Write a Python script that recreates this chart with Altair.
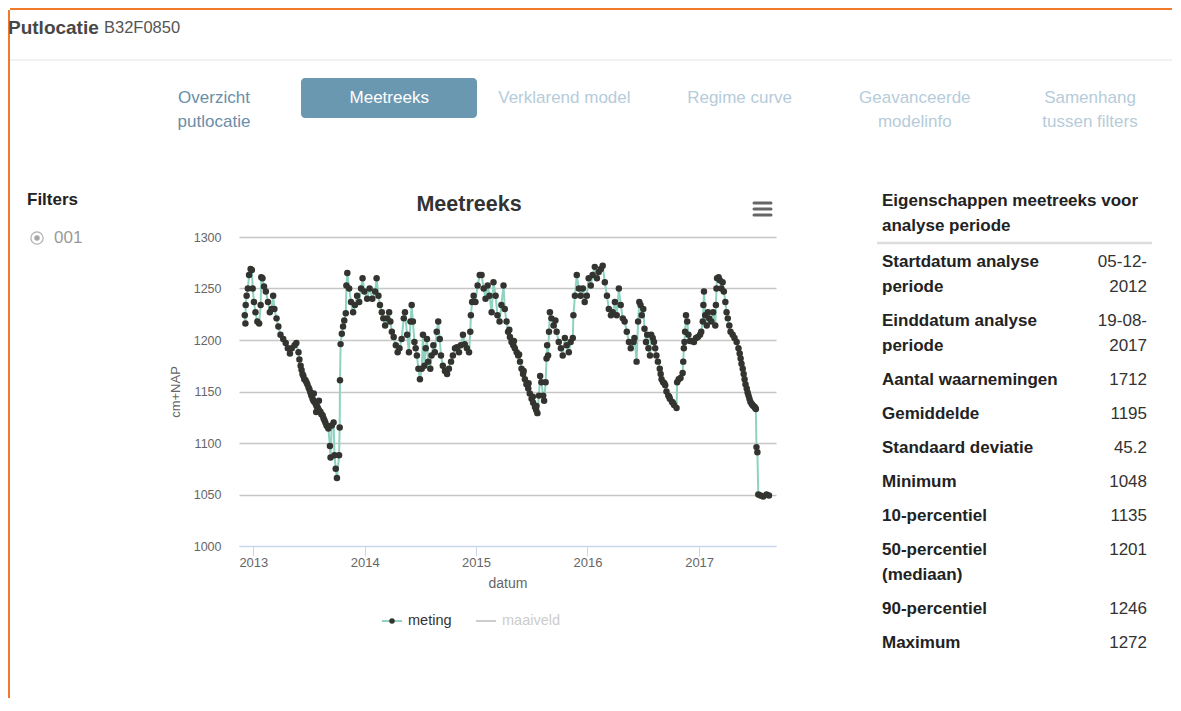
import altair as alt
import pandas as pd

FONT = "Liberation Sans"

# ---------------- meetreeks (datum als decimaal jaar, stand in cm+NAP) ----------------
jaar_a = [2012.926, 2012.929, 2012.933, 2012.940, 2012.952, 2012.964, 2012.976, 2012.988, 2012.997, 2013.006,
          2013.021, 2013.036, 2013.054, 2013.066, 2013.072, 2013.084, 2013.096, 2013.114, 2013.132, 2013.149,
          2013.167, 2013.179, 2013.191, 2013.209, 2013.227, 2013.245, 2013.269, 2013.293, 2013.311, 2013.329,
          2013.347, 2013.371, 2013.389, 2013.407, 2013.425, 2013.442, 2013.460, 2013.478, 2013.496, 2013.514,
          2013.532, 2013.550, 2013.568, 2013.586, 2013.604, 2013.622, 2013.640, 2013.658, 2013.676, 2013.688,
          2013.694, 2013.706, 2013.723, 2013.729, 2013.741, 2013.753, 2013.771, 2013.777, 2013.780, 2013.786,
          2013.795, 2013.807, 2013.819, 2013.831, 2013.837, 2013.846, 2013.861, 2013.879, 2013.897, 2013.915,
          2013.933, 2013.951, 2013.969, 2013.981, 2013.998, 2014.022, 2014.046, 2014.070, 2014.094]
stand_a = [1224, 1216, 1234, 1243, 1250, 1263, 1269, 1268, 1250, 1237,
           1227, 1218, 1216, 1234, 1261, 1260, 1252, 1247, 1237, 1227,
           1230, 1243, 1230, 1221, 1213, 1205, 1201, 1197, 1192, 1187,
           1192, 1195, 1197, 1188, 1175, 1167, 1162, 1159, 1154, 1149,
           1143, 1140, 1136, 1133, 1130, 1127, 1122, 1117, 1114, 1097,
           1086, 1117, 1120, 1088, 1075, 1066, 1088, 1115, 1161, 1196,
           1206, 1213, 1219, 1226, 1253, 1265, 1250, 1237, 1227, 1234,
           1243, 1237, 1250, 1260, 1247, 1240, 1250, 1240, 1247]

jaar_b = [2014.109, 2014.124, 2014.139, 2014.154, 2014.169, 2014.184, 2014.202, 2014.220, 2014.232, 2014.244,
          2014.262, 2014.280, 2014.297, 2014.315, 2014.333, 2014.351, 2014.363, 2014.381, 2014.399, 2014.411,
          2014.423, 2014.435, 2014.447, 2014.459, 2014.471, 2014.483, 2014.498, 2014.513, 2014.525, 2014.537,
          2014.549, 2014.561, 2014.572, 2014.590, 2014.602, 2014.617, 2014.632, 2014.647, 2014.662, 2014.674,
          2014.686, 2014.704, 2014.722, 2014.740, 2014.758, 2014.776, 2014.794, 2014.812, 2014.830, 2014.848,
          2014.865, 2014.883, 2014.901, 2014.919, 2014.937, 2014.949, 2014.955, 2014.967, 2014.979, 2014.997,
          2015.015, 2015.033, 2015.051, 2015.069, 2015.087, 2015.105, 2015.123, 2015.141, 2015.158, 2015.176,
          2015.194, 2015.212, 2015.230, 2015.248]
stand_b = [1260, 1243, 1234, 1227, 1221, 1214, 1221, 1227, 1218, 1208,
           1203, 1195, 1188, 1192, 1201, 1221, 1227, 1205, 1188, 1218,
           1234, 1218, 1198, 1192, 1185, 1172, 1162, 1172, 1205, 1175,
           1192, 1201, 1179, 1172, 1185, 1195, 1188, 1208, 1218, 1201,
           1185, 1175, 1170, 1167, 1172, 1179, 1185, 1192, 1193, 1188,
           1195, 1205, 1196, 1192, 1188, 1208, 1224, 1237, 1243, 1237,
           1253, 1263, 1263, 1250, 1240, 1253, 1243, 1227, 1256, 1243,
           1224, 1218, 1234, 1253]

jaar_c = [2015.260, 2015.275, 2015.290, 2015.305, 2015.320, 2015.335, 2015.350, 2015.365, 2015.380, 2015.395,
          2015.410, 2015.424, 2015.439, 2015.454, 2015.469, 2015.484, 2015.499, 2015.514, 2015.529, 2015.541,
          2015.553, 2015.565, 2015.577, 2015.589, 2015.604, 2015.613, 2015.625, 2015.634, 2015.640, 2015.649,
          2015.655, 2015.664, 2015.679, 2015.697, 2015.715, 2015.726, 2015.744, 2015.762, 2015.780, 2015.798,
          2015.816, 2015.834, 2015.852, 2015.870, 2015.876, 2015.888, 2015.906, 2015.924, 2015.942, 2015.960,
          2015.978, 2015.996, 2016.013, 2016.031, 2016.049, 2016.067, 2016.085, 2016.103, 2016.121, 2016.139,
          2016.157, 2016.175, 2016.193, 2016.211, 2016.229, 2016.247, 2016.265, 2016.283, 2016.300, 2016.318,
          2016.336, 2016.354, 2016.372, 2016.390, 2016.414]
stand_c = [1230, 1218, 1208, 1203, 1198, 1195, 1192, 1188, 1185, 1179,
           1172, 1167, 1162, 1157, 1153, 1148, 1143, 1139, 1135, 1132,
           1129, 1146, 1165, 1159, 1146, 1141, 1159, 1182, 1195, 1185,
           1208, 1227, 1221, 1214, 1219, 1208, 1198, 1192, 1185, 1202,
           1195, 1188, 1198, 1202, 1224, 1243, 1263, 1250, 1243, 1250,
           1237, 1243, 1260, 1253, 1263, 1271, 1260, 1266, 1269, 1272,
           1256, 1243, 1230, 1224, 1227, 1237, 1224, 1250, 1234, 1221,
           1218, 1208, 1198, 1192, 1198]

jaar_d = [2016.423, 2016.441, 2016.456, 2016.465, 2016.477, 2016.489, 2016.501, 2016.513, 2016.525, 2016.537,
          2016.549, 2016.561, 2016.573, 2016.585, 2016.596, 2016.608, 2016.620, 2016.632, 2016.650, 2016.665,
          2016.680, 2016.698, 2016.710, 2016.725, 2016.740, 2016.758, 2016.776, 2016.800, 2016.806, 2016.818,
          2016.836, 2016.853, 2016.859, 2016.865, 2016.871, 2016.877, 2016.883, 2016.895, 2016.907, 2016.919,
          2016.937, 2016.955, 2016.973, 2016.991, 2017.009, 2017.021, 2017.033, 2017.039, 2017.045, 2017.057,
          2017.069, 2017.081, 2017.093, 2017.111, 2017.128, 2017.146, 2017.152, 2017.158, 2017.164, 2017.176,
          2017.188, 2017.200, 2017.212, 2017.224, 2017.236, 2017.248, 2017.260, 2017.272, 2017.284, 2017.302,
          2017.320, 2017.338, 2017.356, 2017.374, 2017.392, 2017.410, 2017.428, 2017.445, 2017.463, 2017.481,
          2017.499, 2017.511, 2017.517, 2017.526, 2017.532, 2017.553, 2017.576, 2017.606, 2017.630]
stand_d = [1202, 1179, 1218, 1237, 1234, 1224, 1230, 1211, 1198, 1205,
           1192, 1185, 1205, 1202, 1198, 1192, 1185, 1179, 1172, 1162,
           1159, 1156, 1150, 1146, 1143, 1140, 1137, 1134, 1159, 1162,
           1163, 1168, 1179, 1192, 1198, 1208, 1224, 1218, 1205, 1199,
           1199, 1198, 1202, 1203, 1205, 1208, 1218, 1234, 1247, 1224,
           1214, 1227, 1221, 1218, 1227, 1214, 1234, 1250, 1260, 1261,
           1258, 1250, 1256, 1247, 1237, 1227, 1221, 1214, 1208, 1205,
           1202, 1198, 1192, 1182, 1172, 1162, 1153, 1146, 1140, 1137,
           1135, 1133, 1096, 1091, 1050, 1049, 1048, 1050, 1049]

# extra readings along the dense, steep stretches of the band
jaar_e = [2013.416, 2013.433, 2013.451, 2013.469, 2013.487, 2013.505, 2013.523, 2013.541, 2013.545, 2013.559,
          2013.565, 2013.577, 2013.590, 2013.595, 2013.613, 2013.631, 2013.649, 2013.667,
          2015.300, 2015.342, 2015.388, 2015.430, 2015.472, 2015.510, 2015.545,
          2016.657, 2016.690, 2016.733, 2016.766,
          2017.365, 2017.383, 2017.401, 2017.419, 2017.436, 2017.454, 2017.472, 2017.490, 2017.505]
stand_e = [1181, 1171, 1165, 1161, 1157, 1152, 1146, 1141, 1148, 1138,
           1130, 1135, 1141, 1131, 1128, 1124, 1120, 1116,
           1210, 1199, 1186, 1170, 1158, 1145, 1136,
           1167, 1158, 1145, 1139,
           1187, 1177, 1167, 1157, 1149, 1143, 1138, 1136, 1134]

jaren_as = [2013, 2014, 2015, 2016, 2017]
y_ticks = [1000, 1050, 1100, 1150, 1200, 1250, 1300]

tabs = ["Overzicht\nputlocatie", "Meetreeks", "Verklarend model", "Regime curve",
        "Geavanceerde\nmodelinfo", "Samenhang\ntussen filters"]
tab_actief = "Meetreeks"

tabel_titel = ["Eigenschappen meetreeks voor", "analyse periode"]
eigenschap_labels = ["Startdatum analyse\nperiode", "Einddatum analyse\nperiode", "Aantal waarnemingen",
                     "Gemiddelde", "Standaard deviatie", "Minimum", "10-percentiel",
                     "50-percentiel\n(mediaan)", "90-percentiel", "Maximum"]
eigenschap_waarden = ["05-12-\n2012", "19-08-\n2017", "1712", "1195", "45.2", "1048", "1135",
                      "1201", "1246", "1272"]

# ---------------- data tabel ----------------
jaren = jaar_a + jaar_b + jaar_c + jaar_d + jaar_e
standen = stand_a + stand_b + stand_c + stand_d + stand_e
assert len(jaren) == len(standen)


def naar_datum(j):
    jaar = int(j)
    begin = pd.Timestamp(year=jaar, month=1, day=1)
    eind = pd.Timestamp(year=jaar + 1, month=1, day=1)
    return (begin + (eind - begin) * (j - jaar)).strftime("%Y-%m-%d")


df = pd.DataFrame({"jaar": jaren, "stand": standen}).sort_values("jaar")
df["datum"] = [naar_datum(j) for j in df["jaar"]]
df = df[["datum", "stand"]]

# plot area origin in page pixels
OX, OY = 239, 237
W, H = 537, 309
TEAL = "#8dd3c0"
DOT = "#333330"

one = pd.DataFrame({"k": [0]})


def tekst(s, px, py, size=17, weight="normal", color="#333333", align="left", baseline="middle"):
    return alt.Chart(one).mark_text(text=s, align=align, baseline=baseline, fontSize=size,
                                    fontWeight=weight, color=color, font=FONT).encode(
        x=alt.value(px - OX), y=alt.value(py - OY))


def lijn(x1, y1, x2, y2, color, width=1, cap="butt"):
    return alt.Chart(one).mark_rule(color=color, strokeWidth=width, strokeCap=cap).encode(
        x=alt.value(x1 - OX), x2=alt.value(x2 - OX), y=alt.value(y1 - OY), y2=alt.value(y2 - OY))


def vlak(x1, y1, x2, y2, fill, radius=0):
    return alt.Chart(one).mark_rect(fill=fill, cornerRadius=radius).encode(
        x=alt.value(x1 - OX), x2=alt.value(x2 - OX), y=alt.value(y1 - OY), y2=alt.value(y2 - OY))


deco = []
# orange frame (also fixes the page bounds)
deco.append(lijn(9, 10, 9, 698, "#f07a2c", 2))
deco.append(lijn(10, 9, 1172, 9, "#f07a2c", 2))
# header
deco.append(tekst("Putlocatie", 8, 28, 19, "bold", "#474747"))
deco.append(tekst("B32F0850", 104, 28, 16.5, "normal", "#555555"))
deco.append(lijn(10, 60, 1172, 60, "#e4e4e4", 1))

# tabs
for i, t in enumerate(tabs):
    cx = 214 + 175.2 * i
    if t == tab_actief:
        deco.append(vlak(301, 78, 477, 118, "#6b98b1", 4))
        kleur = "#ffffff"
    elif i == 0:
        kleur = "#6a8ea8"
    else:
        kleur = "#b6ccda"
    for k, regel in enumerate(t.split("\n")):
        deco.append(tekst(regel, cx, 98 + 24 * k, 17, "normal", kleur, "center"))

# filters panel
deco.append(tekst("Filters", 27, 200, 17, "bold", "#222222"))
deco.append(alt.Chart(one).mark_point(shape="circle", filled=False, size=150, color="#b0b0b0",
                                      strokeWidth=1.2, opacity=1).encode(
    x=alt.value(37 - OX), y=alt.value(238 - OY)))
deco.append(alt.Chart(one).mark_circle(size=30, color="#a8a8a8", opacity=1).encode(
    x=alt.value(37 - OX), y=alt.value(238 - OY)))
deco.append(tekst("001", 54, 238, 17, "normal", "#9a9a9a"))

# chart title + menu icon
deco.append(tekst("Meetreeks", 469, 205, 21.5, "bold", "#333333", "center"))
for yy in (203, 209, 215):
    deco.append(lijn(754, yy, 771, yy, "#666666", 3, "round"))

# legend
deco.append(lijn(382, 621, 402, 621, TEAL, 2))
deco.append(alt.Chart(one).mark_circle(size=30, color=DOT, opacity=1).encode(
    x=alt.value(392 - OX), y=alt.value(621 - OY)))
deco.append(tekst("meting", 408, 621, 14.5, "normal", "#333333"))
deco.append(lijn(476, 621, 496, 621, "#cccccc", 2))
deco.append(tekst("maaiveld", 502, 621, 14.5, "normal", "#cccccc"))

# properties table
for k, regel in enumerate(tabel_titel):
    deco.append(tekst(regel, 882, 201 + 25 * k, 17, "bold", "#222222"))
deco.append(lijn(877, 243, 1152, 243, "#dcdcdc", 2.5))
rij_y = 262
for lab, val in zip(eigenschap_labels, eigenschap_waarden):
    lab_regels = lab.split("\n")
    val_regels = val.split("\n")
    for k, regel in enumerate(lab_regels):
        deco.append(tekst(regel, 882, rij_y + 25 * k, 17, "bold", "#222222"))
    for k, regel in enumerate(val_regels):
        deco.append(tekst(regel, 1147, rij_y + 25 * k, 17, "normal", "#333333", "right"))
    rij_y += 25 * (max(len(lab_regels), len(val_regels)) - 1) + 34

# ---------------- main chart ----------------
x_enc = alt.X(
    "datum:T",
    scale=alt.Scale(type="utc",
                    domain=[alt.DateTime(year=2012, month=11, date=15, utc=True),
                            alt.DateTime(year=2017, month=9, date=10, utc=True)]),
    axis=alt.Axis(values=[alt.DateTime(year=j, month=1, date=1, utc=True) for j in jaren_as],
                  format="%Y", formatType="utc", title="datum",
                  titleX=W / 2, titleY=37, titleAlign="center", titleBaseline="middle",
                  titleColor="#666666", titleFontSize=14, titleFontWeight="normal", titleFont=FONT,
                  labelColor="#666666", labelFontSize=13, labelFont=FONT, labelBaseline="middle",
                  labelPadding=6, tickSize=10, tickColor="#ccd6eb", domainColor="#ccd6eb",
                  labelFlush=False, labelOverlap=False, grid=False),
)
y_enc = alt.Y(
    "stand:Q",
    scale=alt.Scale(domain=[1000, 1300], nice=False, zero=False),
    axis=alt.Axis(values=y_ticks, format="d", title="cm+NAP", titleX=-64, titleY=H / 2,
                  titleAlign="center", titleBaseline="middle", titleColor="#666666", titleFontSize=13,
                  titleFontWeight="normal", titleFont=FONT,
                  labelColor="#666666", labelFontSize=12.5, labelFont=FONT, labelPadding=18,
                  ticks=False, tickSize=0, domain=False, grid=True,
                  gridColor={"condition": {"test": "datum.value == 1000", "value": "#ccd6eb"},
                             "value": "#c6c6c6"},
                  gridWidth=1.3),
)

base = alt.Chart(df).encode(x=x_enc, y=y_enc)
lijn_meting = base.mark_line(color=TEAL, strokeWidth=2)
punten = base.mark_circle(size=42, color=DOT, opacity=1)

chart = alt.layer(*deco, lijn_meting, punten).properties(
    width=W, height=H, padding=0,
    autosize=alt.AutoSizeParams(type="pad"),
).configure(background="white").configure_view(strokeWidth=0, stroke=None)

chart.save("out.html", embed_options={"renderer": "svg", "actions": False})
